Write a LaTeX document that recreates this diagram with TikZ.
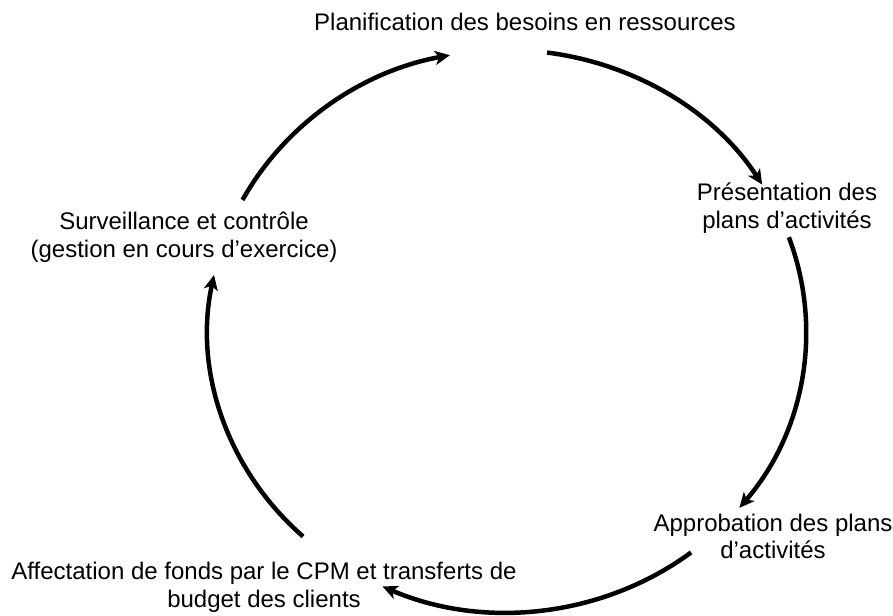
\documentclass[tikz,border=0pt]{standalone}
\usepackage{fontspec}
\setmainfont{Liberation Sans}
\usetikzlibrary{arrows.meta,calc}
\begin{document}
\begin{tikzpicture}[x=1pt,y=1pt,
  lbl/.style={align=center,inner sep=0pt,font=\fontsize{24}{27.5}\selectfont},
  cyc/.style={line width=4.5pt,-{Stealth[length=15pt,width=14pt,inset=4pt]}}]
\useasboundingbox (0,0) rectangle (893,-615);
\node[lbl] (plan) at (525,-22) {Planification des besoins en ressources};
\node[lbl] (pres) at (787,-208) {Présentation des\\plans d’activités};
\node[lbl] (appr) at (773,-536.5) {Approbation des plans\\d’activités};
\node[lbl] (affe) at (264,-587.5) {Affectation de fonds par le CPM et transferts de\\budget des clients};
\node[lbl] (surv) at (184,-237.5) {Surveillance et contrôle\\(gestion en cours d’exercice)};
\coordinate (O) at (507,-331);
\coordinate (a1) at ($(O)+(152.2:299 and 281)$);
\coordinate (a2) at ($(O)+(82.3:299 and 281)$);
\coordinate (a3) at ($(O)+(19.5:299 and 281)$);
\coordinate (a4) at ($(O)+(-52:299 and 281)$);
\coordinate (a5) at ($(O)+(-133:299 and 281)$);
\draw[cyc] (a1) arc[start angle=152.2, end angle=101, x radius=299, y radius=281];
\draw[cyc] (a2) arc[start angle=82.3, end angle=31.4, x radius=299, y radius=281];
\draw[cyc] (a3) arc[start angle=19.5, end angle=-39, x radius=299, y radius=281];
\draw[cyc] (a4) arc[start angle=-52, end angle=-114.6, x radius=299, y radius=281];
\draw[cyc] (a5) arc[start angle=-133, end angle=-191.5, x radius=299, y radius=281];
\end{tikzpicture}
\end{document}
